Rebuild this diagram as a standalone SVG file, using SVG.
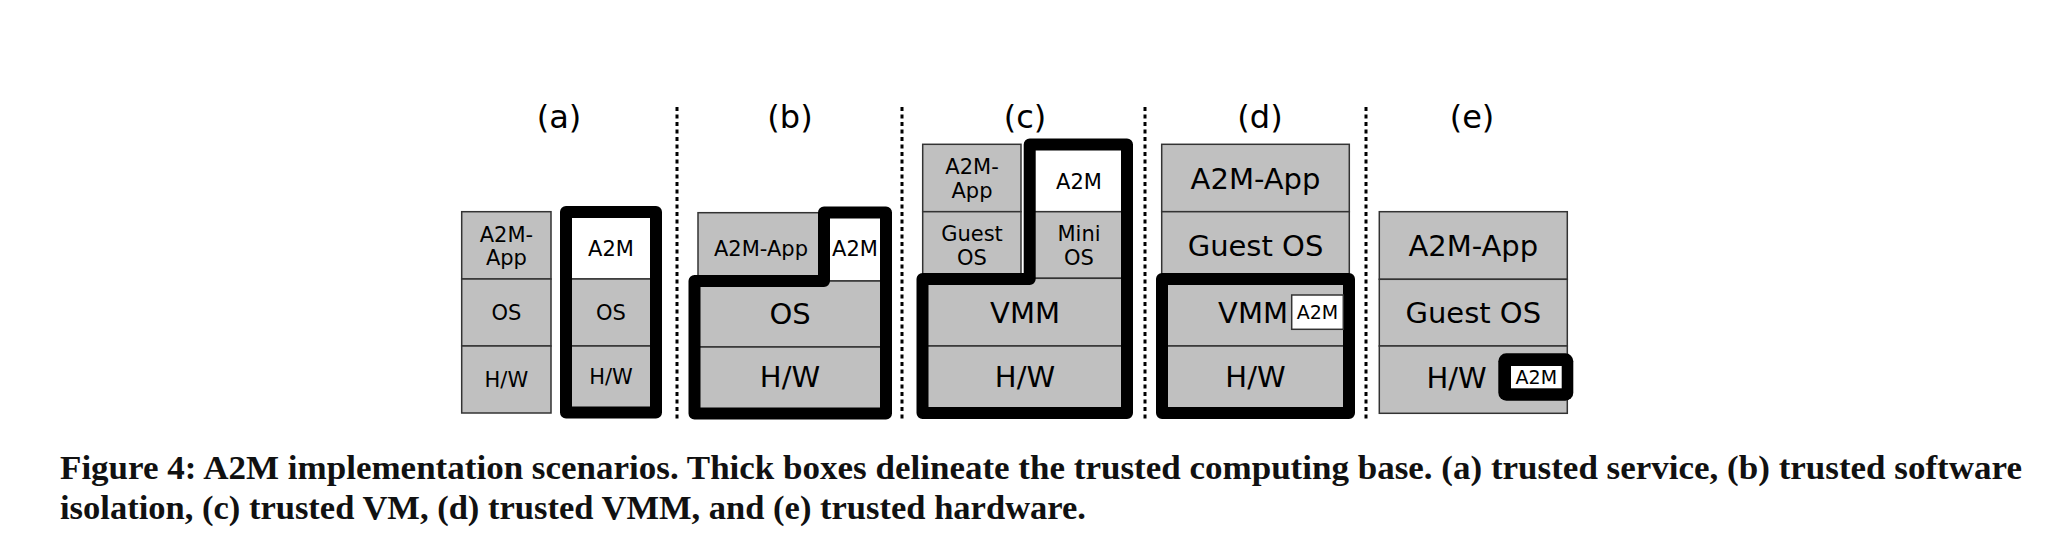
<svg xmlns="http://www.w3.org/2000/svg" width="2048" height="540" viewBox="0 0 2048 540">
<style>
.cell{fill:#c0c0c0;stroke:#333;stroke-width:1.5}
.w{fill:#fff;stroke:#333;stroke-width:1.5}
.tcb{fill:none;stroke:#000;stroke-width:12;stroke-linejoin:round}
.sep{stroke:#000;stroke-width:3;stroke-dasharray:4 3.5;fill:none}
text{font-family:"DejaVu Sans",Verdana,sans-serif;fill:#000;text-anchor:middle}
.s{font-size:21px}
.b{font-size:29px}
.lbl{font-size:32px}
.xs{font-size:19px}
.cap{font-family:"Liberation Serif","Times New Roman",serif;font-weight:bold;font-size:34.5px;text-anchor:start;fill:#111}
</style>
<rect width="2048" height="540" fill="#fff"/>
<g id="separators">
<line class="sep" x1="677" y1="107" x2="677" y2="421"/>
<line class="sep" x1="902" y1="107" x2="902" y2="421"/>
<line class="sep" x1="1145" y1="107" x2="1145" y2="421"/>
<line class="sep" x1="1366" y1="107" x2="1366" y2="421"/>
</g>
<g id="a">
<text class="lbl" x="559" y="128">(a)</text>
<rect class="cell" x="461.7" y="211.7" width="89.3" height="67.3"/>
<rect class="cell" x="461.7" y="279" width="89.3" height="67"/>
<rect class="cell" x="461.7" y="346" width="89.3" height="67"/>
<text class="s" x="506.4" y="241.5">A2M-</text>
<text class="s" x="506.4" y="265">App</text>
<text class="s" x="506.4" y="320">OS</text>
<text class="s" x="506.4" y="387">H/W</text>
<rect class="w" x="566" y="212" width="90" height="67"/>
<rect class="cell" x="566" y="279" width="90" height="67"/>
<rect class="cell" x="566" y="346" width="90" height="66.5"/>
<path class="tcb" d="M566,212 H656 V412.5 H566 Z"/>
<text class="s" x="611" y="256">A2M</text>
<text class="s" x="611" y="320">OS</text>
<text class="s" x="611" y="384">H/W</text>
</g>
<g id="b">
<text class="lbl" x="790" y="128">(b)</text>
<rect class="cell" x="698" y="212.7" width="126" height="68.3"/>
<rect class="w" x="824" y="212.5" width="62" height="68.5"/>
<rect class="cell" x="694.5" y="281" width="191.5" height="66"/>
<rect class="cell" x="694.5" y="347" width="191.5" height="66.5"/>
<path class="tcb" d="M694.5,281 H824 V212.5 H886 V413.5 H694.5 Z"/>
<text class="s" x="761" y="256">A2M-App</text>
<text class="s" x="855" y="256">A2M</text>
<text class="b" x="790" y="324">OS</text>
<text class="b" x="790" y="387">H/W</text>
</g>
<g id="c">
<text class="lbl" x="1025" y="128">(c)</text>
<rect class="cell" x="922.7" y="144.3" width="98.3" height="67.4"/>
<rect class="cell" x="922.7" y="211.7" width="98.3" height="67.3"/>
<text class="s" x="972" y="174">A2M-</text>
<text class="s" x="972" y="197.5">App</text>
<text class="s" x="972" y="241">Guest</text>
<text class="s" x="972" y="264.5">OS</text>
<rect class="w" x="1029.7" y="144.5" width="97.3" height="67.2"/>
<rect class="cell" x="1029.7" y="211.7" width="97.3" height="66.6"/>
<rect class="cell" x="922.5" y="278.3" width="204.5" height="67.7"/>
<rect class="cell" x="922.5" y="346" width="204.5" height="67"/>
<path class="tcb" d="M922.5,279 H1029.7 V144.5 H1127 V413 H922.5 Z"/>
<text class="s" x="1079" y="189">A2M</text>
<text class="s" x="1079" y="241">Mini</text>
<text class="s" x="1079" y="264.5">OS</text>
<text class="b" x="1025" y="323">VMM</text>
<text class="b" x="1025" y="387">H/W</text>
</g>
<g id="d">
<text class="lbl" x="1260" y="128">(d)</text>
<rect class="cell" x="1161.7" y="144.3" width="187.6" height="67.4"/>
<rect class="cell" x="1161.7" y="211.7" width="187.6" height="67.3"/>
<rect class="cell" x="1162" y="279" width="187" height="67"/>
<rect class="cell" x="1162" y="346" width="187" height="67"/>
<path class="tcb" d="M1162,279 H1349 V413 H1162 Z"/>
<text class="b" x="1255.5" y="188.5">A2M-App</text>
<text class="b" x="1255.5" y="256">Guest OS</text>
<text class="b" x="1288" y="322.5" style="text-anchor:end">VMM</text>
<rect class="w" x="1291.7" y="295" width="51.6" height="34.3"/>
<text class="xs" x="1317.5" y="319">A2M</text>
<text class="b" x="1255.5" y="387">H/W</text>
</g>
<g id="e">
<text class="lbl" x="1472" y="128">(e)</text>
<rect class="cell" x="1379.3" y="211.7" width="188" height="67.6"/>
<rect class="cell" x="1379.3" y="279.3" width="188" height="66.7"/>
<rect class="cell" x="1379.3" y="346" width="188" height="67.3"/>
<text class="b" x="1473.3" y="256">A2M-App</text>
<text class="b" x="1473.3" y="323">Guest OS</text>
<text class="b" x="1486.7" y="387.5" style="text-anchor:end">H/W</text>
<rect x="1498.3" y="353.3" width="75" height="47.4" rx="8" fill="#000"/>
<rect x="1511" y="366" width="50.7" height="22.3" fill="#fff"/>
<text class="xs" x="1536.3" y="384">A2M</text>
</g>
<g id="caption">
<text class="cap" x="60" y="479" textLength="1962" lengthAdjust="spacingAndGlyphs">Figure 4: A2M implementation scenarios. Thick boxes delineate the trusted computing base. (a) trusted service, (b) trusted software</text>
<text class="cap" x="60" y="519" textLength="1026" lengthAdjust="spacingAndGlyphs">isolation, (c) trusted VM, (d) trusted VMM, and (e) trusted hardware.</text>
</g>
</svg>
